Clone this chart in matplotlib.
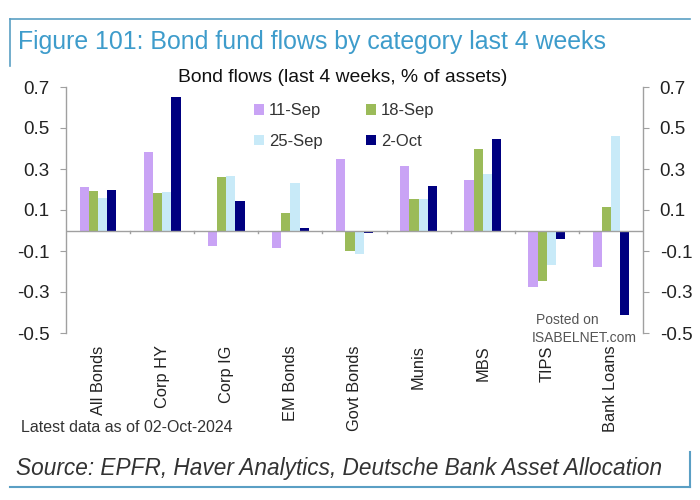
import matplotlib
matplotlib.use("Agg")
import matplotlib.pyplot as plt
import numpy as np
from matplotlib.lines import Line2D
from matplotlib.transforms import blended_transform_factory

plt.rcParams['font.family'] = ['Liberation Sans', 'DejaVu Sans']

categories = ["All Bonds", "Corp HY", "Corp IG", "EM Bonds", "Govt Bonds",
              "Munis", "MBS", "TIPS", "Bank Loans"]
series_names = ["11-Sep", "18-Sep", "25-Sep", "2-Oct"]
sep11 = [0.213, 0.384, -0.077, -0.085, 0.348, 0.313, 0.245, -0.274, -0.180]
sep18 = [0.194, 0.184, 0.261, 0.084, -0.100, 0.153, 0.400, -0.248, 0.115]
sep25 = [0.158, 0.189, 0.268, 0.231, -0.116, 0.153, 0.274, -0.166, 0.460]
oct02 = [0.198, 0.652, 0.145, 0.013, -0.013, 0.215, 0.445, -0.043, -0.411]
yticks = [-0.5, -0.3, -0.1, 0.1, 0.3, 0.5, 0.7]

colors = ["#c9a3f5", "#9bbb59", "#c8eaf8", "#000080"]

fig = plt.figure(figsize=(7, 5), dpi=100)
ax = fig.add_axes([66/700, 1-333/500, (643-66)/700, (333-87)/500])

x = np.arange(len(categories))
w = 0.143
handles = []
for i, (vals, c, name) in enumerate(zip([sep11, sep18, sep25, oct02], colors, series_names)):
    h = ax.bar(x + (i-1.5)*w, vals, width=w, color=c, label=name, zorder=3)
    handles.append(h)

ax.set_xlim(-0.5, len(categories)-0.5)
ax.set_ylim(-0.5, 0.7)
ax.set_yticks(yticks)
ax.set_yticklabels([f"{v:.1f}" for v in yticks])
ax.tick_params(axis='y', which='both', left=True, right=True, labelleft=True, labelright=True,
               direction='out', length=4, color='#a0a0a0', labelsize=13.5, pad=8, labelcolor='#222222')

for s in ['top', 'bottom']:
    ax.spines[s].set_visible(False)
for s in ['left', 'right']:
    ax.spines[s].set_color('#a0a0a0')
    ax.spines[s].set_linewidth(1)

ax.axhline(0, color='#a0a0a0', lw=1, zorder=4)
ax.set_xticks([])
for b in np.arange(0.5, len(categories)-1, 1.0):
    ax.plot([b, b], [0, -0.012], color='#a0a0a0', lw=1, zorder=4, clip_on=False)

trans = blended_transform_factory(ax.transData, ax.transAxes)
for xi, cat in zip(x, categories):
    ax.text(xi, -0.05, cat, rotation=90, ha='center', va='top', fontsize=11.8,
            color='#222222', transform=trans)

fig.text(343/700, 1-78/500, "Bond flows (last 4 weeks, % of assets)", fontsize=13.9,
         color='#111111', ha='center', va='center')

order = [0, 2, 1, 3]
leg = ax.legend([handles[k] for k in order], [series_names[k] for k in order],
                ncol=2, loc='upper left', bbox_to_anchor=(0.3, 0.995), frameon=False,
                fontsize=12, handlelength=0.6, handleheight=0.6, handletextpad=0.3,
                columnspacing=2.6, labelspacing=0.95, labelcolor='#333333')

# Header / footer decorations
frame_c = '#5a9fc4'
fig.add_artist(Line2D([10/700, 690/700], [1-19/500, 1-19/500], color=frame_c, lw=1.2))
fig.add_artist(Line2D([10/700, 10/700], [1-19/500, 1-66/500], color=frame_c, lw=1.2))
fig.add_artist(Line2D([10/700, 690/700], [1-487/500, 1-487/500], color=frame_c, lw=1.5))
fig.add_artist(Line2D([690/700, 690/700], [1-452/500, 1-487/500], color=frame_c, lw=1.5))

fig.text(18/700, 1-42/500, "Figure 101: Bond fund flows by category last 4 weeks",
         fontsize=17.9, color='#3e9ccb', va='center', ha='left')
fig.text(21/700, 1-428/500, "Latest data as of 02-Oct-2024", fontsize=11.5,
         color='#333333', va='center', ha='left')
fig.text(16/700, 1-469/500, "Source: EPFR, Haver Analytics, Deutsche Bank Asset Allocation",
         fontsize=16.3, style='italic', color='#333333', va='center', ha='left')

fig.text(567/700, 1-320/500, "Posted on", fontsize=10, color='#555555', ha='center', va='center')
fig.text(584/700, 1-338/500, "ISABELNET.com", fontsize=10, color='#555555', ha='center', va='center')

fig.savefig("out.png", dpi=100)
